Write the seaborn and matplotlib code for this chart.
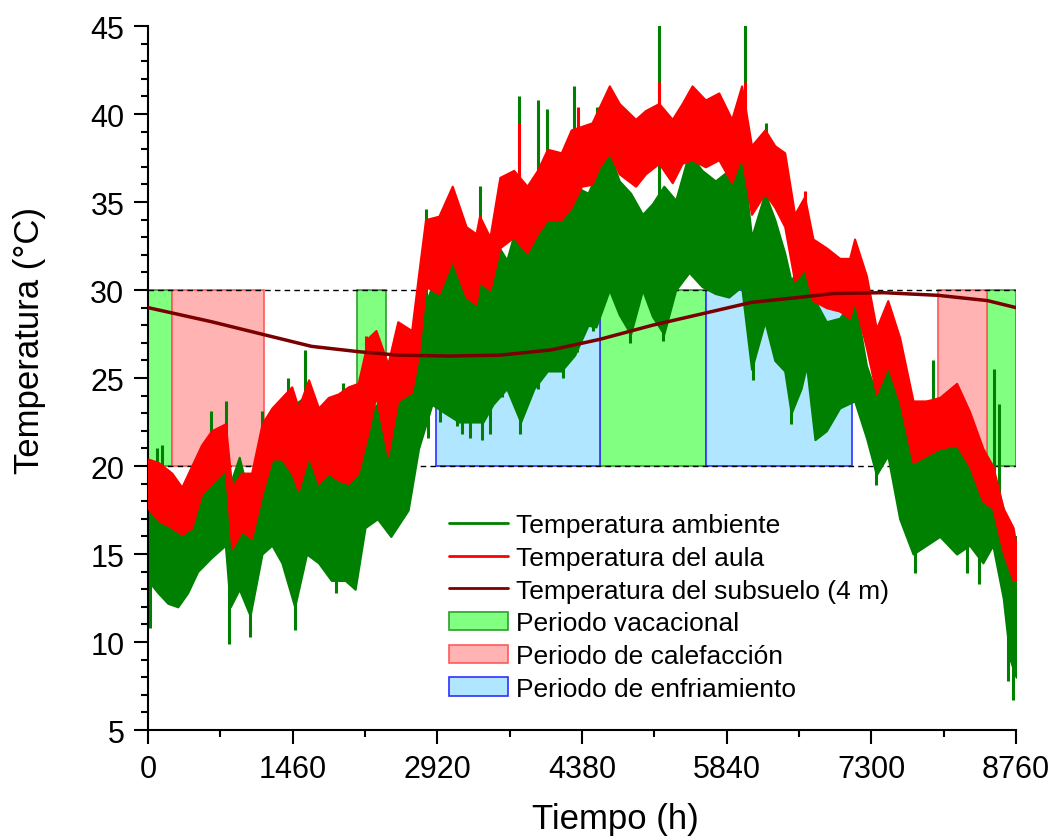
import numpy as np
import pandas as pd
import matplotlib
matplotlib.use("Agg")
import matplotlib.pyplot as plt
import seaborn as sns
from matplotlib.patches import Patch
from matplotlib.lines import Line2D
from matplotlib.ticker import MultipleLocator
from matplotlib import font_manager

# ---------------- data ----------------
amb_h = [0, 100, 200, 300, 400, 500, 640, 780, 830, 920, 1030, 1150, 1250, 1350, 1480, 1600,
         1720, 1850, 1990, 2090, 2190, 2315, 2450, 2625, 2730, 2865, 3000, 3140, 3275, 3380,
         3480, 3620, 3760, 3895, 4030, 4170, 4305, 4440, 4520, 4655, 4755, 4870, 4990, 5090,
         5205, 5325, 5460, 5590, 5725, 5860, 5990, 6090, 6225, 6325, 6425, 6490, 6590, 6645,
         6730, 6845, 6980, 7130, 7250, 7350, 7465, 7585, 7720, 7855, 7990, 8160, 8290, 8425,
         8525, 8630, 8700, 8760]
amb_lo = [13.5, 12.8, 12.2, 12.0, 12.8, 14.0, 14.8, 15.5, 12.0, 13.0, 11.5, 15.0, 15.5, 14.5, 12.0, 15.0,
          14.5, 13.5, 13.5, 13.0, 16.5, 17.0, 16.0, 17.5, 21.0, 23.5, 23.0, 22.5, 22.5, 22.5,
          23.5, 24.4, 22.5, 24.4, 25.4, 25.4, 26.3, 28.0, 27.9, 30.0, 28.6, 27.5, 30.0, 28.5,
          27.5, 30.0, 31.0, 30.2, 29.8, 29.6, 30.2, 25.5, 28.2, 26.0, 25.4, 23.0, 24.4, 25.7,
          21.5, 22.0, 23.3, 23.7, 21.6, 19.5, 20.6, 17.0, 15.0, 15.5, 16.0, 15.0, 15.5, 14.5,
          15.5, 12.5, 9.0, 8.0]
amb_hi = [20.0, 18.8, 17.5, 17.0, 18.4, 19.5, 20.6, 21.5, 19.0, 20.5, 18.0, 22.0, 21.6, 23.0, 23.5, 24.0,
          21.5, 21.0, 21.0, 21.6, 23.0, 23.5, 23.1, 24.4, 28.2, 30.2, 31.7, 31.5, 31.5, 30.5,
          33.0, 31.7, 34.5, 34.3, 34.7, 34.0, 35.9, 35.5, 36.5, 37.8, 36.2, 35.5, 34.3, 34.9,
          35.9, 35.1, 37.8, 36.8, 36.2, 36.8, 38.2, 33.0, 35.5, 34.0, 32.1, 30.5, 31.7, 31.4,
          29.4, 28.2, 28.4, 29.6, 25.7, 24.1, 26.1, 24.7, 21.6, 23.7, 21.6, 22.0, 21.6, 19.6,
          19.6, 17.6, 15.5, 16.0]

# isolated spikes of the ambient series (hour, low end, high end)
spike_h = [15, 95, 138, 640, 790, 820, 1030, 1150, 1413, 1480, 1580, 1900, 1968, 2230, 2800,
           2826, 2947, 3115, 3165, 3250, 3345, 3367, 3450, 3567, 3685, 3740, 3752, 3937, 3940,
           4030, 4190, 4300, 4324, 4492, 4530, 4862, 5160, 5198, 6020, 6110, 6235, 6490, 6630,
           7350, 7740, 7920, 8260, 8390, 8540, 8585, 8680, 8730]
spike_lo = [10.8, 15.0, 15.0, 16.0, 17.0, 9.9, 10.3, 16.0, 16.0, 10.7, 16.0, 12.8, 17.0, 17.0, 25.0,
            21.6, 22.5, 22.3, 21.8, 21.6, 25.0, 21.5, 21.8, 23.9, 23.9, 28.0, 21.8, 24.4, 28.0,
            28.0, 25.0, 29.0, 26.5, 27.7, 30.0, 27.0, 30.0, 27.1, 31.0, 24.9, 30.0, 22.4, 26.0,
            18.9, 13.9, 18.0, 13.9, 13.3, 17.0, 17.0, 7.8, 6.7]
spike_hi = [18.0, 21.0, 21.2, 23.1, 23.7, 17.0, 16.0, 23.1, 25.0, 18.0, 26.6, 18.0, 24.7, 23.1, 34.6,
            28.0, 28.0, 28.0, 28.0, 28.0, 35.9, 28.0, 28.0, 30.0, 30.0, 41.0, 30.0, 30.0, 40.8,
            40.3, 30.0, 41.6, 31.0, 32.0, 40.4, 32.0, 45.1, 32.0, 45.1, 31.0, 39.5, 28.0, 31.4,
            23.0, 20.0, 26.0, 19.0, 18.0, 25.5, 23.5, 14.0, 14.0]

aula_h = [0, 105, 240, 340, 440, 540, 640, 780, 845, 945, 1045, 1150, 1250, 1350, 1450, 1517,
          1620, 1720, 1820, 1920, 2020, 2120, 2225, 2300, 2420, 2520, 2660, 2730, 2800, 2935,
          3070, 3210, 3310, 3345, 3450, 3550, 3690, 3825, 3930, 4030, 4170, 4270, 4375, 4480,
          4555, 4655, 4755, 4920, 5020, 5155, 5290, 5390, 5490, 5625, 5760, 5890, 5990, 6090,
          6225, 6325, 6425, 6525, 6625, 6710, 6845, 6980, 7080, 7130, 7250, 7350, 7465, 7585,
          7720, 7855, 7990, 8160, 8290, 8425, 8525, 8630, 8730, 8760]
aula_lo = [17.6, 16.9, 16.5, 16.1, 16.5, 18.4, 19.0, 19.8, 15.3, 16.3, 15.9, 18.4, 20.4, 20.4, 19.6, 18.6,
           20.6, 19.0, 19.6, 19.2, 19.0, 19.6, 22.0, 24.0, 20.6, 23.7, 24.2, 26.3, 30.2, 29.8,
           31.7, 29.6, 29.2, 30.5, 30.0, 32.4, 33.0, 32.1, 33.2, 34.0, 34.0, 34.7, 35.9, 36.0,
           37.0, 37.8, 36.6, 35.9, 36.6, 37.2, 36.1, 37.2, 37.4, 37.0, 37.4, 36.1, 37.6, 34.3,
           35.5, 34.7, 33.6, 30.5, 31.2, 29.4, 29.0, 28.8, 28.4, 29.4, 26.7, 24.1, 25.7, 23.7,
           20.2, 20.6, 21.0, 21.2, 20.0, 18.0, 17.6, 15.1, 13.5, 13.5]
aula_hi = [20.4, 20.2, 19.6, 18.8, 20.0, 21.2, 22.0, 22.4, 18.8, 19.6, 19.6, 22.4, 23.3, 23.9, 24.5, 23.3,
           24.9, 23.3, 23.9, 24.1, 24.5, 24.7, 27.3, 27.7, 25.8, 28.2, 27.7, 30.9, 34.0, 34.2,
           35.9, 33.6, 33.2, 34.2, 33.0, 36.4, 36.8, 35.9, 36.8, 38.0, 37.8, 39.1, 39.3, 39.5,
           40.4, 41.6, 40.6, 39.7, 40.2, 40.6, 39.7, 40.6, 41.6, 40.8, 41.2, 39.7, 41.6, 38.2,
           39.1, 38.2, 37.8, 34.3, 35.3, 32.9, 32.4, 31.8, 31.8, 32.9, 30.8, 27.8, 29.4, 27.3,
           23.7, 23.7, 23.9, 24.7, 23.1, 21.0, 20.0, 17.6, 16.5, 15.5]

# isolated spikes of the classroom series
aula_spike_h = [2200, 3740, 4335, 5160, 6020, 6630]
aula_spike_lo = [24.0, 34.0, 36.0, 38.0, 38.0, 32.0]
aula_spike_hi = [27.4, 39.5, 40.4, 41.8, 41.8, 35.6]

sub_h = [0, 240, 640, 1180, 1650, 2120, 2520, 3040, 3550, 4070, 4560, 5090, 5630, 6090, 6600,
         6910, 7420, 7970, 8470, 8760]
sub_T = [29.0, 28.7, 28.2, 27.45, 26.8, 26.5, 26.3, 26.25, 26.3, 26.6, 27.2, 28.0, 28.7, 29.3,
         29.6, 29.8, 29.85, 29.7, 29.4, 29.0]

vac_start = [0, 2109, 4562, 8467]
vac_end = [242, 2402, 5631, 8760]
cal_start = [242, 7973]
cal_end = [1171, 8467]
enf_start = [2907, 5631]
enf_end = [4562, 7105]

comfort_low, comfort_high = 20, 30

x_ticks = [0, 1460, 2920, 4380, 5840, 7300, 8760]

# ---------------- style ----------------
sns.set_style("ticks")
plt.rcParams["font.family"] = ["Liberation Sans", "DejaVu Sans"]
plt.rcParams.update({"text.color": "black", "axes.labelcolor": "black",
                     "xtick.color": "black", "ytick.color": "black"})
narrow = "Liberation Sans Narrow"
avail = {f.name for f in font_manager.fontManager.ttflist}
xfont = [narrow, "Liberation Sans"] if narrow in avail else ["Liberation Sans"]

C_AMB = "#008000"
C_AULA = "#FF0000"
C_SUB = "#7A0000"

fig = plt.figure(figsize=(10.5, 8.37), dpi=100)
ax = fig.add_axes([0.141, 0.1266, 0.8267, 0.8411])

def periods(starts, ends, fc, ec):
    w = [e - s for s, e in zip(starts, ends)]
    ax.bar(starts, comfort_high - comfort_low, width=w, bottom=comfort_low, align="edge",
           facecolor=fc, edgecolor=ec, linewidth=1.2, zorder=1)

periods(vac_start, vac_end, "#80FF80", "#2E9E2E")
periods(cal_start, cal_end, "#FFB3B3", "#FF5A5A")
periods(enf_start, enf_end, "#B0E6FF", "#2F2FFF")

for yv in (comfort_low, comfort_high):
    ax.axhline(yv, color="black", lw=1.0, ls=(0, (4, 3)), zorder=1.5)

# ambient band
n0 = len(ax.collections)
df_amb = pd.DataFrame({"h": amb_h + amb_h, "T": amb_lo + amb_hi})
sns.lineplot(data=df_amb, x="h", y="T", estimator="mean", errorbar=("pi", 100),
             color=C_AMB, linewidth=0, err_kws={"alpha": 1, "linewidth": 1.5, "edgecolor": C_AMB},
             ax=ax, legend=False)
for c in ax.collections[n0:]:
    c.set_zorder(2)
ax.vlines(spike_h, spike_lo, spike_hi, color=C_AMB, lw=2.2, zorder=2.1)

# aula band
n0 = len(ax.collections)
df_aula = pd.DataFrame({"h": aula_h + aula_h, "T": aula_lo + aula_hi})
sns.lineplot(data=df_aula, x="h", y="T", estimator="mean", errorbar=("pi", 100),
             color=C_AULA, linewidth=0, err_kws={"alpha": 1, "linewidth": 1.5, "edgecolor": C_AULA},
             ax=ax, legend=False)
for c in ax.collections[n0:]:
    c.set_zorder(3)
ax.vlines(aula_spike_h, aula_spike_lo, aula_spike_hi, color=C_AULA, lw=2.2, zorder=3.1)

# subsoil
sns.lineplot(x=sub_h, y=sub_T, color=C_SUB, linewidth=2.5, ax=ax, zorder=4)

# axes
ax.set_xlim(0, 8760)
ax.set_ylim(5, 45)
ax.set_xticks(x_ticks)
ax.xaxis.set_minor_locator(MultipleLocator(730))
ax.yaxis.set_major_locator(MultipleLocator(5))
ax.yaxis.set_minor_locator(MultipleLocator(1))
ax.tick_params(which="major", direction="out", length=10, width=1.5, color="black",
               labelcolor="black", labelsize=22, pad=7)
ax.tick_params(which="minor", direction="out", length=5, width=1.5, color="black")
ax.set_xticklabels([str(t) for t in x_ticks])
for lbl in ax.get_xticklabels():
    lbl.set_fontfamily(xfont)
sns.despine(ax=ax)
for s in ("left", "bottom"):
    ax.spines[s].set_linewidth(1.5)
    ax.spines[s].set_color("black")

ax.set_xlabel("Tiempo (h)", fontsize=25)
ax.set_ylabel("Temperatura (°C)", fontsize=25)
ax.xaxis.set_label_coords(0.538, -0.102)
ax.yaxis.set_label_coords(-0.118, 0.555)

handles = [
    Line2D([], [], color=C_AMB, lw=2),
    Line2D([], [], color=C_AULA, lw=2),
    Line2D([], [], color=C_SUB, lw=2),
    Patch(facecolor="#80FF80", edgecolor="#2E9E2E", lw=1.2),
    Patch(facecolor="#FFB3B3", edgecolor="#FF5A5A", lw=1.2),
    Patch(facecolor="#B0E6FF", edgecolor="#2F2FFF", lw=1.2),
]
labels = ["Temperatura ambiente", "Temperatura del aula", "Temperatura del subsuelo (4 m)",
          "Periodo vacacional", "Periodo de calefacción", "Periodo de enfriamiento"]
ax.legend(handles, labels, loc="upper left", bbox_to_anchor=(0.347, 0.308), frameon=False,
          fontsize=19, handlelength=2.23, handleheight=0.68, handletextpad=0.3,
          labelspacing=0.33, borderaxespad=0, borderpad=0)

fig.savefig("out.png", dpi=100)
